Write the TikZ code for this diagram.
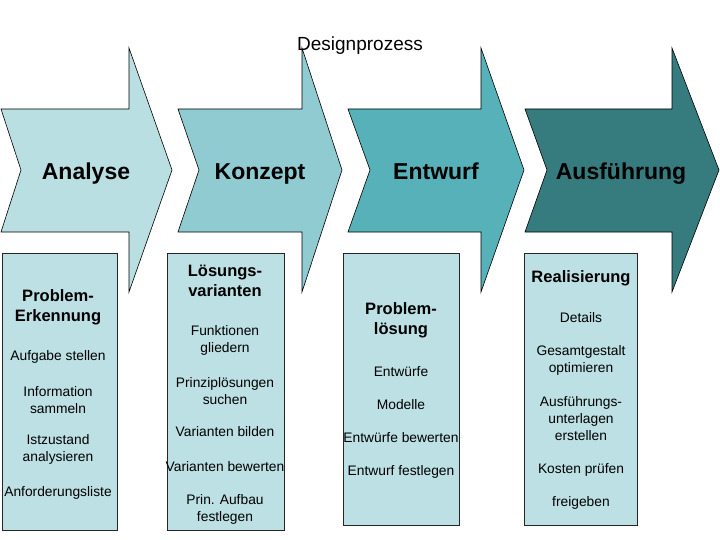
\documentclass[tikz,border=0pt]{standalone}
\usepackage{fontspec}
\setmainfont{Liberation Sans}
\usepackage{tikz}

\definecolor{stufeA}{HTML}{B9DFE3}
\definecolor{stufeB}{HTML}{8FCBD1}
\definecolor{stufeC}{HTML}{56B1B8}
\definecolor{stufeD}{HTML}{367B7E}
\definecolor{kastenfarbe}{HTML}{BCE0E4}

\begin{document}
\begin{tikzpicture}[x=1pt, y=-1pt,
    phase/.style={font=\fontsize{23}{27}\selectfont\bfseries, anchor=base},
    kasten/.style={draw=black!85, fill=kastenfarbe, line width=0.6pt},
    kopf/.style={font=\fontsize{16.5}{20}\selectfont\bfseries, align=center},
    schritt/.style={font=\fontsize{13.8}{17}\selectfont, align=center}]
\useasboundingbox (0,0) rectangle (720,540);
    % die vier Pfeile
    \foreach \l/\n/\s/\t/\farbe in {1/21/129/172/stufeA, 178/199/302/342/stufeB,
                                   348/370/481/524/stufeC, 525/547/672/719/stufeD} {
        \draw[fill=\farbe, line width=0.6pt] (\l,109) -- (\s,109) -- (\s,48) -- (\t,170)
            -- (\s,292) -- (\s,232) -- (\l,232) -- (\n,170) -- cycle;
    }
    \node[font=\fontsize{19}{22}\selectfont] (titel) at (360,46) {Designprozess};
    \node[phase] (analyse) at (86,180) {Analyse};
    \node[phase] (konzept) at (260,180) {Konzept};
    \node[phase] (entwurf) at (436,180) {Entwurf};
    \node[phase] (ausfuehrung) at (621,180) {Ausführung};
    % Kaesten
    \draw[kasten] (2,253) rectangle (117,530);
    \draw[kasten] (167,253) rectangle (284,530);
    \draw[kasten] (343,253) rectangle (459,525);
    \draw[kasten] (524,253) rectangle (637,525);
    % Analyse
    \node[kopf] (erkennung) at (58,307) {Problem-\\Erkennung};
    \node[schritt] (aufgabe) at (58,357) {Aufgabe stellen};
    \node[schritt] (information) at (58,400) {Information\\sammeln};
    \node[schritt] (istzustand) at (58,449.5) {Istzustand\\analysieren};
    \node[schritt] (anforderung) at (58,493) {Anforderungsliste};
    % Konzept
    \node[kopf] (varianten) at (225,281) {Lösungs-\\varianten};
    \node[schritt] (funktionen) at (225,340) {Funktionen\\gliedern};
    \node[schritt] (prinzip) at (225,391) {Prinziplösungen\\suchen};
    \node[schritt] (bilden) at (225,432) {Varianten bilden};
    \node[schritt] (bewerten) at (225,467) {Varianten bewerten};
    \node[schritt] (aufbau) at (225,509) {Prin. Aufbau\\festlegen};
    % Entwurf
    \node[kopf] (loesung) at (401,320.5) {Problem-\\lösung};
    \node[schritt] (entwuerfe) at (401,372) {Entwürfe};
    \node[schritt] (modelle) at (401,405) {Modelle};
    \node[schritt] (ebewerten) at (401,438) {Entwürfe bewerten};
    \node[schritt] (festlegen) at (401,472) {Entwurf festlegen};
    % Ausfuehrung
    \node[kopf] (realisierung) at (581,278) {Realisierung};
    \node[schritt] (details) at (581,318) {Details};
    \node[schritt] (gesamt) at (581,360.5) {Gesamtgestalt\\optimieren};
    \node[schritt] (unterlagen) at (581,419) {Ausführungs-\\unterlagen\\erstellen};
    \node[schritt] (kosten) at (581,470) {Kosten prüfen};
    \node[schritt] (freigeben) at (581,503) {freigeben};
\end{tikzpicture}
\end{document}
